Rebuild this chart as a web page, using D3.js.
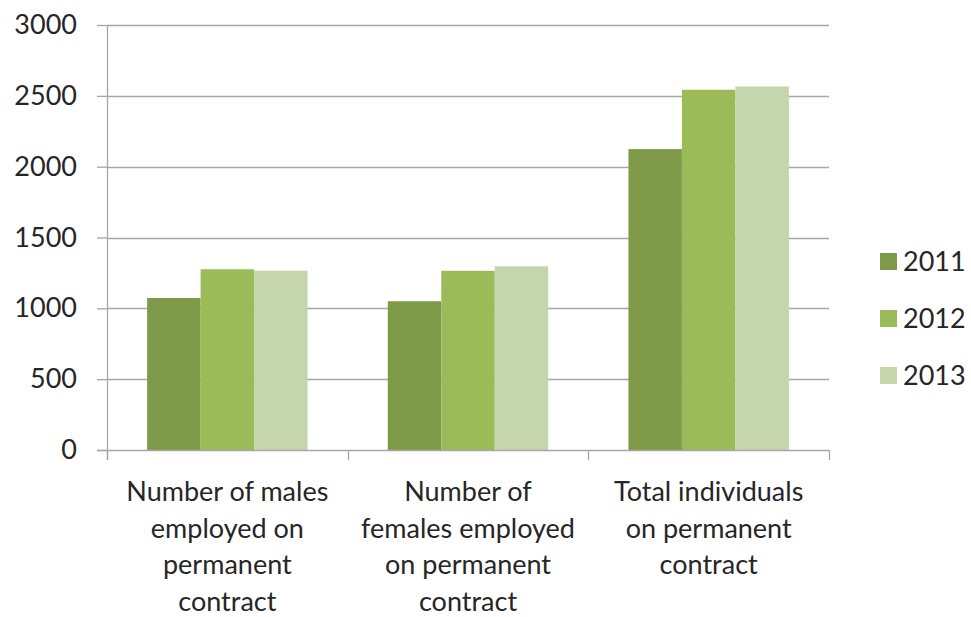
<!DOCTYPE html>
<html>
<head>
<meta charset="utf-8">
<script src="https://cdn.jsdelivr.net/npm/d3@7"></script>
<style>
  html, body { margin: 0; padding: 0; background: #fff; }
  svg { display: block; }
  text { font-family: Lato, "Open Sans", sans-serif; fill: #262626; }
</style>
</head>
<body>
<svg id="chart" width="971" height="617"></svg>
<script>
// Permanent-contract headcount by year
const categories = [
  ["Number of males", "employed on", "permanent", "contract"],
  ["Number of", "females employed", "on permanent", "contract"],
  ["Total individuals", "on permanent", "contract"]
];
const years = ["2011", "2012", "2013"];
const values2011 = [1073, 1050, 2124];
const values2012 = [1276, 1265, 2543];
const values2013 = [1266, 1297, 2566];
const yTicks = [0, 500, 1000, 1500, 2000, 2500, 3000];
const colors = ["#7f9a48", "#9bbb59", "#c6d6ac"];

const series = [values2011, values2012, values2013];

const svg = d3.select("#chart");
const margin = { left: 107, right: 142, top: 25, bottom: 167 };
const W = 971, H = 617;
const plotW = W - margin.left - margin.right;
const plotH = H - margin.top - margin.bottom;
const fontSize = "27px";
const axisGrey = "#a6a6a6";

const g = svg.append("g").attr("transform", `translate(${margin.left},${margin.top})`);

const x0 = d3.scaleBand().domain(d3.range(categories.length)).range([0, plotW]).paddingInner(0).paddingOuter(0);
// gap width of 150% of a bar: 3 bars + 1.5 bar-widths of gap per category
const groupW = x0.bandwidth() * 3 / 4.5;
const x1 = d3.scaleBand().domain(d3.range(years.length)).range([0, groupW]).padding(0);
const y = d3.scaleLinear().domain([0, 3000]).range([plotH, 0]);

// gridlines
g.append("g").selectAll("line").data(yTicks.filter(t => t > 0)).join("line")
  .attr("x1", 0).attr("x2", plotW)
  .attr("y1", d => Math.round(y(d)) + 0.5).attr("y2", d => Math.round(y(d)) + 0.5)
  .attr("stroke", axisGrey).attr("stroke-width", 1.3);

// bars
const groups = g.append("g").selectAll("g").data(categories).join("g")
  .attr("transform", (d, i) => `translate(${x0(i) + (x0.bandwidth() - groupW) / 2},0)`);
groups.selectAll("rect")
  .data((d, i) => series.map((s, k) => ({ k, v: s[i] })))
  .join("rect")
  .attr("x", d => x1(d.k))
  .attr("width", x1.bandwidth())
  .attr("y", d => y(d.v))
  .attr("height", d => plotH - y(d.v))
  .attr("fill", d => colors[d.k]);

// y axis
const yAxis = d3.axisLeft(y).tickValues(yTicks).tickFormat(d3.format("d")).tickSize(10).tickPadding(20);
const ya = g.append("g").call(yAxis);
ya.select(".domain").attr("stroke", axisGrey).attr("stroke-width", 1.3).attr("d", `M0.5,0V${plotH + 10}`);
ya.selectAll(".tick line").attr("stroke", axisGrey).attr("stroke-width", 1.3);
ya.selectAll(".tick text").style("font-size", fontSize).style("font-family", "Lato, sans-serif").attr("fill", "#262626");

// x axis
const xa = g.append("g").attr("transform", `translate(0,${plotH})`);
xa.append("line").attr("x1", -10).attr("x2", plotW).attr("y1", 0.5).attr("y2", 0.5)
  .attr("stroke", axisGrey).attr("stroke-width", 1.3);
xa.selectAll(".xt").data(d3.range(categories.length + 1)).join("line")
  .attr("x1", d => Math.round(d * x0.step()) + 0.5).attr("x2", d => Math.round(d * x0.step()) + 0.5)
  .attr("y1", 0).attr("y2", 10)
  .attr("stroke", axisGrey).attr("stroke-width", 1.3);

xa.selectAll(".cat").data(categories).join("text")
  .attr("text-anchor", "middle")
  .attr("transform", (d, i) => `translate(${x0(i) + x0.bandwidth() / 2},0)`)
  .style("font-size", fontSize)
  .selectAll("tspan").data(d => d).join("tspan")
  .attr("x", 0)
  .attr("y", (d, j) => 51 + j * 36.5)
  .text(d => d);

// legend
const legend = svg.append("g").attr("transform", "translate(880,0)");
const ly = [261, 318, 375];
years.forEach((yr, k) => {
  legend.append("rect").attr("x", 0).attr("y", ly[k] - 8).attr("width", 17).attr("height", 17).attr("fill", colors[k]);
  legend.append("text").attr("x", 23).attr("y", ly[k] + 10).style("font-size", fontSize).text(yr);
});
</script>
</body>
</html>
